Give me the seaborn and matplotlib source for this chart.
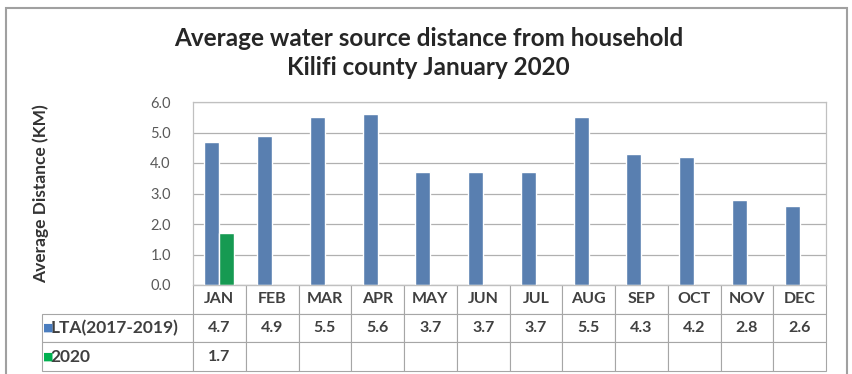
import numpy as np
import pandas as pd
import matplotlib
matplotlib.use("Agg")
import matplotlib.pyplot as plt
import seaborn as sns
from matplotlib.patches import Rectangle

# data
months = ['JAN', 'FEB', 'MAR', 'APR', 'MAY', 'JUN', 'JUL', 'AUG', 'SEP', 'OCT', 'NOV', 'DEC']
lta = [4.7, 4.9, 5.5, 5.6, 3.7, 3.7, 3.7, 5.5, 4.3, 4.2, 2.8, 2.6]
y2020 = [1.7]
series = ['LTA(2017-2019)', '2020']
colors = ['#4a7dbf', '#00b050']

df = pd.concat([
    pd.DataFrame({'month': months, 'value': lta, 'series': series[0]}),
    pd.DataFrame({'month': months[:len(y2020)], 'value': y2020, 'series': series[1]}),
])

sns.set_style('white')
plt.rcParams['font.family'] = ['Lato', 'DejaVu Sans']

W, H = 852, 374
fig = plt.figure(figsize=(W / 100, H / 100), dpi=100)
ax = fig.add_axes([193 / W, 1 - 285 / H, 633 / W, 183 / H])

sns.barplot(data=df, x='month', y='value', hue='series', order=months,
            hue_order=series, palette=colors, width=0.57, errorbar=None,
            legend=False, ax=ax)

ax.set_ylim(0, 6)
ax.set_yticks(np.arange(0, 7, 1))
ax.set_yticklabels([f'{v:.1f}' for v in np.arange(0, 7, 1)])
ax.yaxis.grid(True, color='#b0b0b0', lw=0.9)
ax.set_axisbelow(True)
ax.tick_params(axis='y', length=0, pad=16, labelsize=10.5, labelcolor='#595959')
ax.set_xticks([])
ax.set_xlabel('')
ax.set_ylabel('Average Distance (KM)', fontsize=12.5, fontweight='bold', color='#333333')
ax.yaxis.set_label_coords(-0.228, 0.5)
for s in ax.spines.values():
    s.set_color('#c0c0c0')
    s.set_linewidth(0.9)

# data table under the bars
lw = 151 / 633
h = 86 / 183
cell_text = [[''] + [f'{v:.1f}' for v in lta],
             [''] + [f'{v:.1f}' for v in y2020] + [''] * (len(months) - len(y2020))]
cell_text[0][0] = series[0]
cell_text[1][0] = series[1]
tbl = ax.table(cellText=cell_text, colLabels=[''] + months,
               colWidths=[lw] + [1 / 12] * 12, bbox=[-lw, -h, 1 + lw, h],
               cellLoc='center')
tbl.auto_set_font_size(False)
tbl.set_fontsize(11.5)
for (r, c), cell in tbl.get_celld().items():
    cell.set_edgecolor('#a6a6a6')
    cell.set_linewidth(0.8)
    cell.get_text().set_fontweight('bold')
    cell.get_text().set_color('#404040')
    if r == 0 and c == 0:
        cell.set_visible(False)
    if r > 0 and c == 0:
        cell.get_text().set_ha('left')
        cell.get_text().set_fontsize(12.5)
        cell.PAD = 0.055

# colour keys in front of the row labels
for i, col in enumerate(colors):
    ax.text(-lw + 0.001, -h / 3 * (i + 1.5), '■', color=col, fontsize=8,
            family='DejaVu Sans', va='center', ha='left', transform=ax.transAxes)

fig.text(0.503, 1 - 53 / H, 'Average water source distance from household\nKilifi county January 2020',
         ha='center', va='center', fontsize=17.5, fontweight='bold', color='#262626',
         linespacing=1.3)

# chart area border
fig.patches.append(Rectangle((6 / W, -0.05), 841 / W, 1.05 - 8 / H, transform=fig.transFigure,
                             fill=False, edgecolor='#a0a0a0', lw=1.5))

fig.savefig('out.png', dpi=100)
